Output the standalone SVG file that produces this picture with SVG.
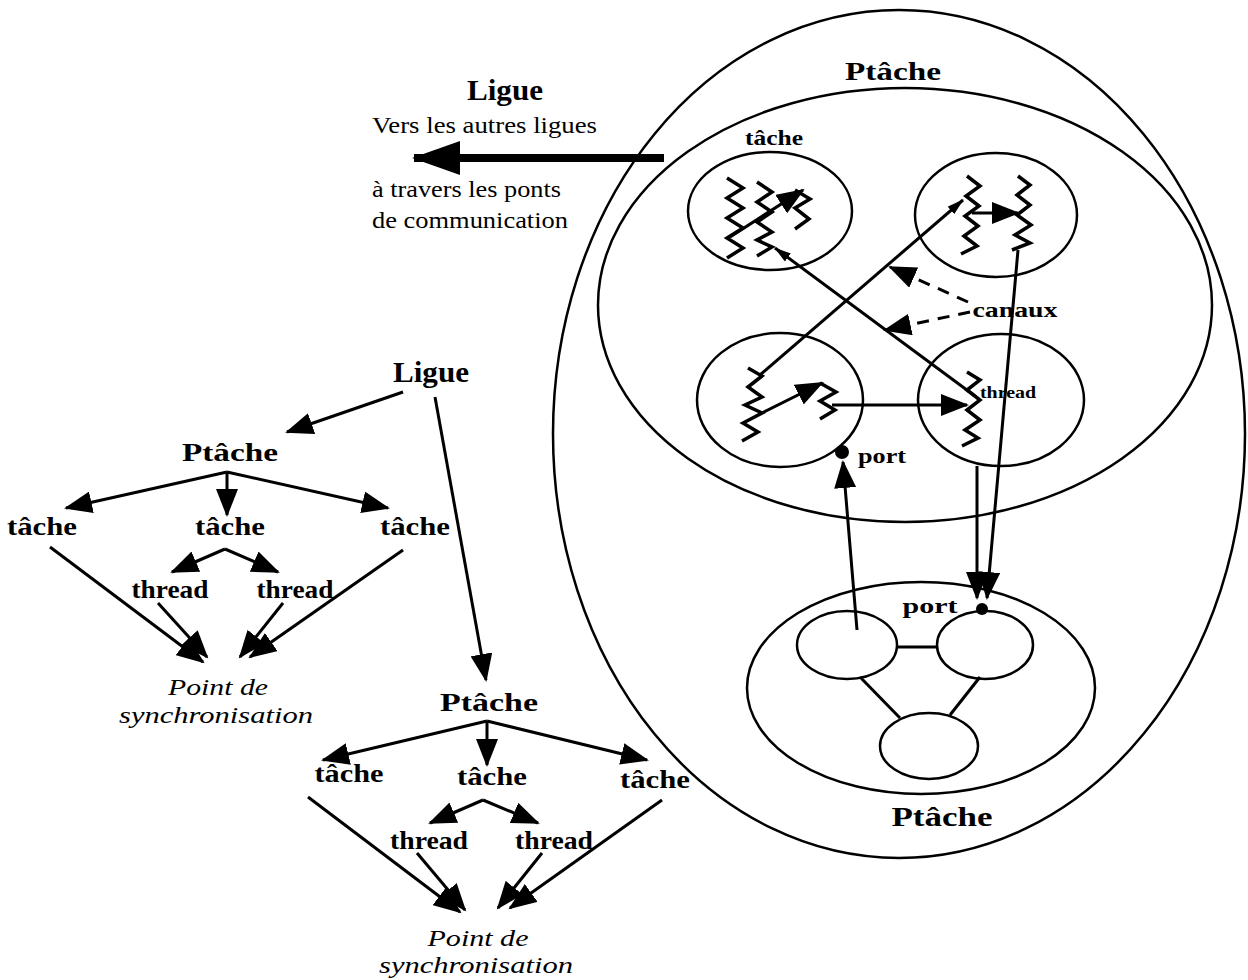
<svg xmlns="http://www.w3.org/2000/svg" width="1248" height="980" viewBox="0 0 1248 980">
<style>
.e{fill:none;stroke:#000;stroke-width:2.5}
.c{fill:none;stroke:#000;stroke-width:3}
.z{fill:none;stroke:#000;stroke-width:3.5;stroke-linejoin:miter}
.b{font-family:"Liberation Serif",serif;font-weight:bold;fill:#000}
.r{font-family:"Liberation Serif",serif;fill:#000}
.i{font-family:"Liberation Serif",serif;font-style:italic;fill:#000}
</style>
<defs>
<marker id="ah" markerWidth="30" markerHeight="22" refX="26" refY="11" orient="auto" markerUnits="userSpaceOnUse"><path d="M0,0 L28,11 L0,22 z"/></marker>
<marker id="as" markerWidth="18" markerHeight="10" refX="16" refY="5" orient="auto" markerUnits="userSpaceOnUse"><path d="M0,0 L17,5 L0,10 z"/></marker>
<marker id="ax" markerWidth="50" markerHeight="34" refX="46" refY="17" orient="auto" markerUnits="userSpaceOnUse"><path d="M0,0 L48,17 L0,34 z"/></marker>
</defs>

<g id="ptache-outer"><ellipse class="e" cx="899" cy="434" rx="346" ry="424"/><text class="b" x="893" y="80" font-size="26" text-anchor="middle" textLength="96" lengthAdjust="spacingAndGlyphs">Ptâche</text></g>
<g id="ptache-inner"><ellipse class="e" cx="905" cy="305" rx="307" ry="217"/></g>
<g id="tache-tl"><ellipse class="e" cx="770" cy="211" rx="82" ry="59"/><text class="b" x="774" y="145" font-size="22" text-anchor="middle" textLength="58" lengthAdjust="spacingAndGlyphs">tâche</text>
<polyline class="z" points="727,178 743,188 727,198 743,208 727,218 743,228 727,238 743,248 727,258"/>
<polyline class="z" points="757,182 772,192 757,202 772,212 757,222 772,232 757,240 772,247 757,256"/>
<polyline class="z" points="795,190 810,199 795,208 809,219 795,229"/></g>
<g id="tache-tr"><ellipse class="e" cx="996" cy="215" rx="81" ry="62"/>
<polyline class="z" points="967,176 980,186 966,196 979,206 965,216 978,226 964,236 977,246 961,254"/>
<polyline class="z" points="1018,176 1030,185 1017,195 1030,205 1017,215 1031,225 1015,235 1030,243 1012,250"/></g>
<g id="tache-bl"><ellipse class="e" cx="780" cy="400" rx="83" ry="67"/>
<polyline class="z" points="748,368 762,376 748,387 762,397 745,405 762,413 743,423 758,432 742,441"/>
<polyline class="z" points="820,383 836,392 820,401 835,410 820,419"/></g>
<g id="tache-br"><ellipse class="e" cx="1001" cy="400" rx="83" ry="66"/>
<polyline class="z" points="967,372 980,380 967,390 980,400 967,410 980,420 965,430 978,438 962,446"/>
<text class="b" x="1008" y="398" font-size="17" text-anchor="middle" textLength="56" lengthAdjust="spacingAndGlyphs">thread</text></g>
<g id="ptache-bottom"><ellipse class="e" cx="921" cy="688" rx="174" ry="106"/>
<ellipse class="e" cx="847" cy="645" rx="50" ry="34"/>
<ellipse class="e" cx="985" cy="645" rx="48" ry="34"/>
<ellipse class="e" cx="929" cy="746" rx="49" ry="33"/>
<text class="b" x="942" y="826" font-size="27" text-anchor="middle" textLength="101" lengthAdjust="spacingAndGlyphs">Ptâche</text>
<text class="b" x="930" y="613" font-size="22" text-anchor="middle" textLength="55" lengthAdjust="spacingAndGlyphs">port</text>
<circle cx="982" cy="609" r="6"/></g>
<g id="labels-right"><text class="b" x="1015" y="317" font-size="22" text-anchor="middle" textLength="85" lengthAdjust="spacingAndGlyphs">canaux</text>
<text class="b" x="882" y="463" font-size="21" text-anchor="middle" textLength="48" lengthAdjust="spacingAndGlyphs">port</text>
<circle cx="842" cy="452" r="7"/></g>
<g id="ligue-top"><text class="b" x="505" y="100" font-size="29" text-anchor="middle" textLength="76" lengthAdjust="spacingAndGlyphs">Ligue</text>
<text class="r" x="372" y="133" font-size="24" textLength="225" lengthAdjust="spacingAndGlyphs">Vers les autres ligues</text>
<text class="r" x="372" y="197" font-size="24" textLength="189" lengthAdjust="spacingAndGlyphs">à travers les ponts</text>
<text class="r" x="372" y="228" font-size="24" textLength="196" lengthAdjust="spacingAndGlyphs">de communication</text></g>

<g id="tree1">
<text class="b" x="431" y="382" font-size="30" text-anchor="middle" textLength="76" lengthAdjust="spacingAndGlyphs">Ligue</text>
<text class="b" x="230" y="461" font-size="26" text-anchor="middle" textLength="96" lengthAdjust="spacingAndGlyphs">Ptâche</text>
<text class="b" x="42" y="535" font-size="25" text-anchor="middle" textLength="70" lengthAdjust="spacingAndGlyphs">tâche</text>
<text class="b" x="230" y="535" font-size="25" text-anchor="middle" textLength="70" lengthAdjust="spacingAndGlyphs">tâche</text>
<text class="b" x="415" y="535" font-size="25" text-anchor="middle" textLength="70" lengthAdjust="spacingAndGlyphs">tâche</text>
<text class="b" x="170" y="598" font-size="25" text-anchor="middle" textLength="77" lengthAdjust="spacingAndGlyphs">thread</text>
<text class="b" x="295" y="598" font-size="25" text-anchor="middle" textLength="77" lengthAdjust="spacingAndGlyphs">thread</text>
<text class="i" x="218" y="695" font-size="24" text-anchor="middle" textLength="100" lengthAdjust="spacingAndGlyphs">Point de</text>
<text class="i" x="216" y="723" font-size="24" text-anchor="middle" textLength="194" lengthAdjust="spacingAndGlyphs">synchronisation</text>
</g>
<g id="tree2">
<text class="b" x="489" y="711" font-size="26" text-anchor="middle" textLength="98" lengthAdjust="spacingAndGlyphs">Ptâche</text>
<text class="b" x="349" y="782" font-size="25" text-anchor="middle" textLength="69" lengthAdjust="spacingAndGlyphs">tâche</text>
<text class="b" x="492" y="785" font-size="25" text-anchor="middle" textLength="70" lengthAdjust="spacingAndGlyphs">tâche</text>
<text class="b" x="655" y="788" font-size="25" text-anchor="middle" textLength="70" lengthAdjust="spacingAndGlyphs">tâche</text>
<text class="b" x="429" y="849" font-size="25" text-anchor="middle" textLength="78" lengthAdjust="spacingAndGlyphs">thread</text>
<text class="b" x="554" y="849" font-size="25" text-anchor="middle" textLength="78" lengthAdjust="spacingAndGlyphs">thread</text>
<text class="i" x="478" y="946" font-size="24" text-anchor="middle" textLength="101" lengthAdjust="spacingAndGlyphs">Point de</text>
<text class="i" x="476" y="973" font-size="24" text-anchor="middle" textLength="194" lengthAdjust="spacingAndGlyphs">synchronisation</text>
</g>

<g id="connectors">
<line x1="664" y1="158" x2="414" y2="158" stroke="#000" stroke-width="8" marker-end="url(#ax)"/>
<line class="c" x1="730" y1="237" x2="803" y2="190" marker-end="url(#ah)"/>
<line class="c" x1="972" y1="213" x2="1018" y2="213" marker-end="url(#ah)"/>
<line class="c" x1="762" y1="413" x2="822" y2="383" marker-end="url(#ah)"/>
<line class="c" x1="832" y1="405" x2="967" y2="405" marker-end="url(#ah)"/>
<line class="c" stroke-width="3.5" x1="760" y1="375" x2="963" y2="200" marker-end="url(#as)"/>
<line class="c" stroke-width="3.5" x1="975" y1="396" x2="775" y2="248" marker-end="url(#as)"/>
<line class="c" stroke-dasharray="12,9" x1="968" y1="302" x2="890" y2="267" marker-end="url(#ah)"/>
<line class="c" stroke-dasharray="12,9" x1="970" y1="312" x2="885" y2="330" marker-end="url(#ah)"/>
<line class="c" x1="857" y1="630" x2="843" y2="462" marker-end="url(#ah)"/>
<line class="c" x1="977" y1="466" x2="977" y2="598" marker-end="url(#ah)"/>
<line class="c" stroke-width="2.5" x1="1018" y1="250" x2="987" y2="598" marker-end="url(#ah)"/>
<line class="c" x1="897" y1="647" x2="937" y2="647"/>
<line class="c" x1="860" y1="677" x2="900" y2="718"/>
<line class="c" x1="980" y1="677" x2="950" y2="715"/>

<line class="c" x1="403" y1="392" x2="287" y2="432" marker-end="url(#ah)"/>
<line class="c" stroke-width="2.5" x1="435" y1="397" x2="486" y2="680" marker-end="url(#ah)"/>
<line class="c" x1="227" y1="472" x2="66" y2="508" marker-end="url(#ah)"/>
<line class="c" x1="227" y1="472" x2="227" y2="515" marker-end="url(#ah)"/>
<line class="c" x1="227" y1="472" x2="388" y2="508" marker-end="url(#ah)"/>
<line class="c" x1="225" y1="549" x2="172" y2="572" marker-end="url(#ah)"/>
<line class="c" x1="225" y1="549" x2="278" y2="572" marker-end="url(#ah)"/>
<line class="c" x1="50" y1="547" x2="203" y2="662" marker-end="url(#ah)"/>
<line class="c" x1="158" y1="603" x2="207" y2="657" marker-end="url(#ah)"/>
<line class="c" x1="283" y1="603" x2="240" y2="657" marker-end="url(#ah)"/>
<line class="c" x1="403" y1="550" x2="250" y2="657" marker-end="url(#ah)"/>

<line class="c" x1="487" y1="721" x2="323" y2="760" marker-end="url(#ah)"/>
<line class="c" x1="487" y1="721" x2="487" y2="765" marker-end="url(#ah)"/>
<line class="c" x1="487" y1="721" x2="647" y2="760" marker-end="url(#ah)"/>
<line class="c" x1="483" y1="800" x2="430" y2="823" marker-end="url(#ah)"/>
<line class="c" x1="483" y1="800" x2="538" y2="823" marker-end="url(#ah)"/>
<line class="c" x1="308" y1="797" x2="460" y2="912" marker-end="url(#ah)"/>
<line class="c" x1="417" y1="853" x2="465" y2="910" marker-end="url(#ah)"/>
<line class="c" x1="542" y1="853" x2="498" y2="908" marker-end="url(#ah)"/>
<line class="c" x1="662" y1="800" x2="510" y2="908" marker-end="url(#ah)"/>
</g>
</svg>
